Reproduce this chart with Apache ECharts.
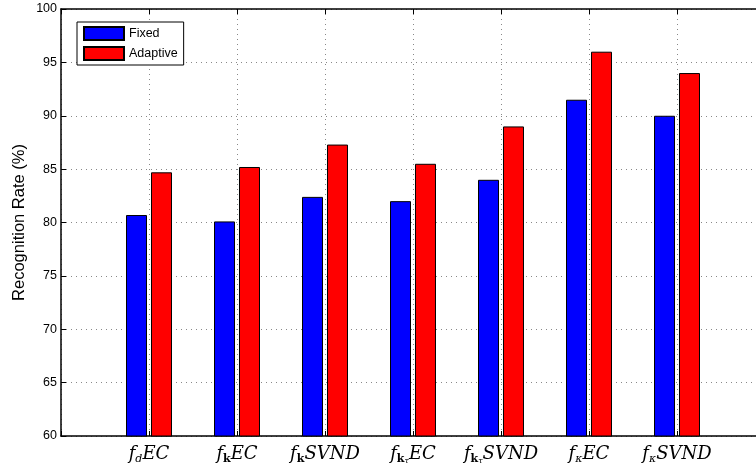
<!DOCTYPE html>
<html>
<head>
<meta charset="utf-8">
<script src="https://cdn.jsdelivr.net/npm/echarts@6/dist/echarts.min.js"></script>
<style>
  html, body { margin: 0; padding: 0; background: #fff; }
  #chart { width: 756px; height: 468px; }
</style>
</head>
<body>
<div id="chart"></div>
<script>
// Feature sets (rich-text formatted labels); blank slots pad the axis ends
const categories = [
  '{f|f}{sub|d}{f|EC}',
  '{f|f}{subb|k}{f|EC}',
  '{f|f}{subb|k}{f|SVND}',
  '{f|f}{subb|k}{subsub|τ}{f|EC}',
  '{f|f}{subb|k}{subsub|τ}{f|SVND}',
  '{f|f}{sub|κ}{f|EC}',
  '{f|f}{sub|κ}{f|SVND}'
];
const fixedRates    = [80.7, 80.1, 82.4, 82.0, 84.0, 91.5, 90.0];
const adaptiveRates = [84.7, 85.2, 87.3, 85.5, 89.0, 96.0, 94.0];
const yTicks = { min: 60, max: 100, step: 5 };

const axisCats = [''].concat(categories, ['']);
const pad = arr => [null].concat(arr, [null]);

const chart = echarts.init(document.getElementById('chart'), null, { renderer: 'canvas' });

const serif = '"DejaVu Serif", "Liberation Serif", serif';
const sans = '"Liberation Sans", Arial, sans-serif';
const gridLine = { show: true, interval: 0, lineStyle: { color: '#888', width: 1, type: [1, 4] } };

chart.setOption({
  animation: false,
  backgroundColor: '#fff',
  grid: { left: 61, top: 9, bottom: 32, right: -9, containLabel: false, outerBoundsMode: 'none' },
  legend: {
    orient: 'vertical',
    left: 77,
    top: 22,
    itemWidth: 40,
    itemHeight: 13,
    itemGap: 5,
    padding: [4, 6, 4, 6],
    borderColor: '#000',
    borderWidth: 1,
    backgroundColor: '#fff',
    textStyle: { fontFamily: sans, fontSize: 12.5, color: '#000' },
    icon: 'rect',
    data: ['Fixed', 'Adaptive']
  },
  xAxis: [
    {
      type: 'category',
      data: axisCats,
      boundaryGap: false,
      axisLine: { lineStyle: { color: '#000', width: 1.5 } },
      axisTick: { inside: true, length: 5, interval: 0, lineStyle: { color: '#000' } },
      splitLine: gridLine,
      axisLabel: {
        interval: 0,
        margin: 7,
        color: '#000',
        rich: {
          f: { fontFamily: serif, fontStyle: 'italic', fontSize: 18, color: '#000', lineHeight: 22 },
          sub: { fontFamily: serif, fontStyle: 'italic', fontSize: 11, color: '#000', verticalAlign: 'bottom', lineHeight: 20 },
          subb: { fontFamily: serif, fontWeight: 'bold', fontSize: 11, color: '#000', verticalAlign: 'bottom', lineHeight: 20 },
          subsub: { fontFamily: serif, fontStyle: 'italic', fontSize: 8, color: '#000', verticalAlign: 'bottom', lineHeight: 16 }
        }
      }
    },
    {
      type: 'category',
      data: axisCats,
      boundaryGap: false,
      position: 'top',
      axisLine: { lineStyle: { color: '#000', width: 1.5 } },
      axisTick: { inside: true, length: 5, interval: 0, lineStyle: { color: '#000' } },
      axisLabel: { show: false },
      splitLine: { show: false }
    }
  ],
  yAxis: {
    type: 'value',
    min: yTicks.min,
    max: yTicks.max,
    interval: yTicks.step,
    name: 'Recognition Rate (%)',
    nameLocation: 'middle',
    nameGap: 33,
    nameMoveOverlap: false,
    nameTextStyle: { fontFamily: sans, fontSize: 16.5, color: '#000' },
    axisLine: { show: true, lineStyle: { color: '#000', width: 1.5 } },
    axisTick: { show: true, inside: true, length: 5, lineStyle: { color: '#000' } },
    axisLabel: { fontFamily: sans, fontSize: 12.5, color: '#000', margin: 4 },
    splitLine: gridLine
  },
  series: [
    {
      name: 'Fixed',
      type: 'bar',
      data: pad(fixedRates),
      barWidth: 21,
      barGap: '19%',
      itemStyle: { color: '#0000ff', borderColor: '#000', borderWidth: 1 }
    },
    {
      name: 'Adaptive',
      type: 'bar',
      data: pad(adaptiveRates),
      barWidth: 21,
      barGap: '19%',
      itemStyle: { color: '#ff0000', borderColor: '#000', borderWidth: 1 }
    }
  ]
});
</script>
</body>
</html>
